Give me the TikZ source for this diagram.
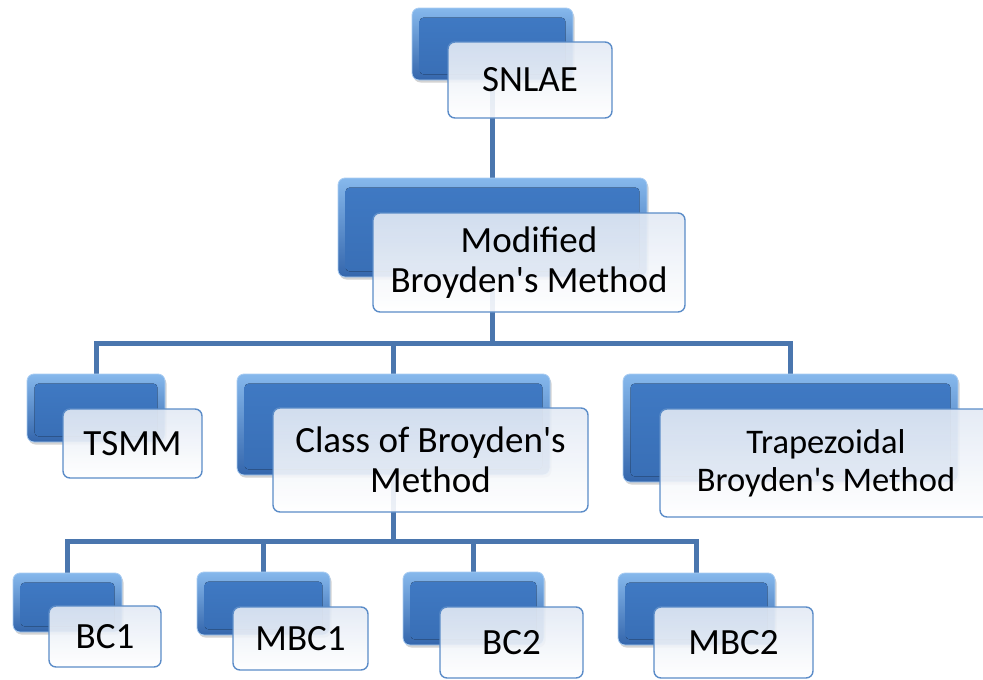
\documentclass[tikz,border=0pt]{standalone}
\usepackage{fontspec}
\setmainfont{Carlito}[Ligatures=TeXOff]
\usetikzlibrary{fit,shadows}
\pgfdeclarelayer{bg}
\pgfsetlayers{bg,main}
\definecolor{linec}{HTML}{4A76AE}
\definecolor{bluetop}{HTML}{86B8EC}
\definecolor{bluebot}{HTML}{3466AC}
\definecolor{faceTop}{HTML}{3F79C3}
\definecolor{faceBot}{HTML}{396FB6}
\definecolor{wtop}{HTML}{E2E9F4}
\definecolor{wedge}{HTML}{5B8CC8}
\tikzset{
  bluebox/.style={rectangle, rounded corners=7pt, inner sep=0pt, top color=bluetop, bottom color=bluebot, draw=bluetop!70!white, line width=0.8pt,
    drop shadow={opacity=0.35, shadow xshift=1.5pt, shadow yshift=-2.5pt}},
  bluebevel/.style={rounded corners=4pt, top color=faceTop, bottom color=faceBot},
  whitebox/.style={rectangle, rounded corners=7pt, inner sep=0pt, top color=wtop, bottom color=white, draw=wedge, line width=1.4pt, fill opacity=0.9},
  txt/.style={font=\fontsize{37}{40}\selectfont, align=center, text=black, inner sep=0pt},
  conn/.style={draw=linec, line width=5pt}
}
\newcommand\orgunit[6][]{%
  \node[bluebox, fit={#3 #4}] (#2b) {};
  \fill[bluebevel] ([xshift=8pt,yshift=-10pt]#2b.north west) rectangle ([xshift=-8pt,yshift=6pt]#2b.south east);
  \node[whitebox, fit={#5 #6}] (#2w) {};
  \node[txt,#1] (#2t) at (#2w.center) {\orgtext};
}
\begin{document}
\begin{tikzpicture}[x=1pt,y=-1pt]
\useasboundingbox (0,0) rectangle (983,680);
\def\orgtext{SNLAE}
\orgunit{sn}{(412,8)}{(573,80)}{(448,42)}{(612,118)}
\def\orgtext{Modified\\Broyden's Method}
\orgunit{mod}{(338,178)}{(647,277)}{(373,213)}{(685,312)}
\def\orgtext{TSMM}
\orgunit{tsmm}{(27,374)}{(165,442)}{(63,409)}{(202,478)}
\def\orgtext{Class of Broyden's\\Method}
\orgunit{cls}{(237,374)}{(550,475)}{(273,408)}{(588,512)}
\def\orgtext{Trapezoidal\\Broyden's Method}
\orgunit[font=\fontsize{34.5}{38}\selectfont]{trap}{(623,374)}{(958,482)}{(660,409)}{(992,517)}
\def\orgtext{BC1}
\orgunit{bca}{(13,573)}{(122,632)}{(49,606)}{(161,667)}
\def\orgtext{MBC1}
\orgunit{mbca}{(197,572)}{(330,635)}{(233,607)}{(368,670)}
\def\orgtext{BC2}
\orgunit{bcb}{(403,572)}{(544,645)}{(440,607)}{(583,678)}
\def\orgtext{MBC2}
\orgunit{mbcb}{(618,573)}{(775,645)}{(654,607)}{(813,678)}
\coordinate (busA) at (0,343);
\coordinate (busB) at (0,541);
\begin{pgfonlayer}{bg}
\draw[conn] (snb.south) -- (modb.north);
\draw[conn] (modb.south) -- (modb.south |- busA) -| (tsmmb.north);
\draw[conn] (modb.south |- busA) -| (clsb.north);
\draw[conn] (modb.south |- busA) -| (trapb.north);
\draw[conn] (clsb.south) -- (clsb.south |- busB) -| (bcab.north);
\draw[conn] (clsb.south |- busB) -| (mbcab.north);
\draw[conn] (clsb.south |- busB) -| (bcbb.north);
\draw[conn] (clsb.south |- busB) -| (mbcbb.north);
\end{pgfonlayer}
\end{tikzpicture}
\end{document}
